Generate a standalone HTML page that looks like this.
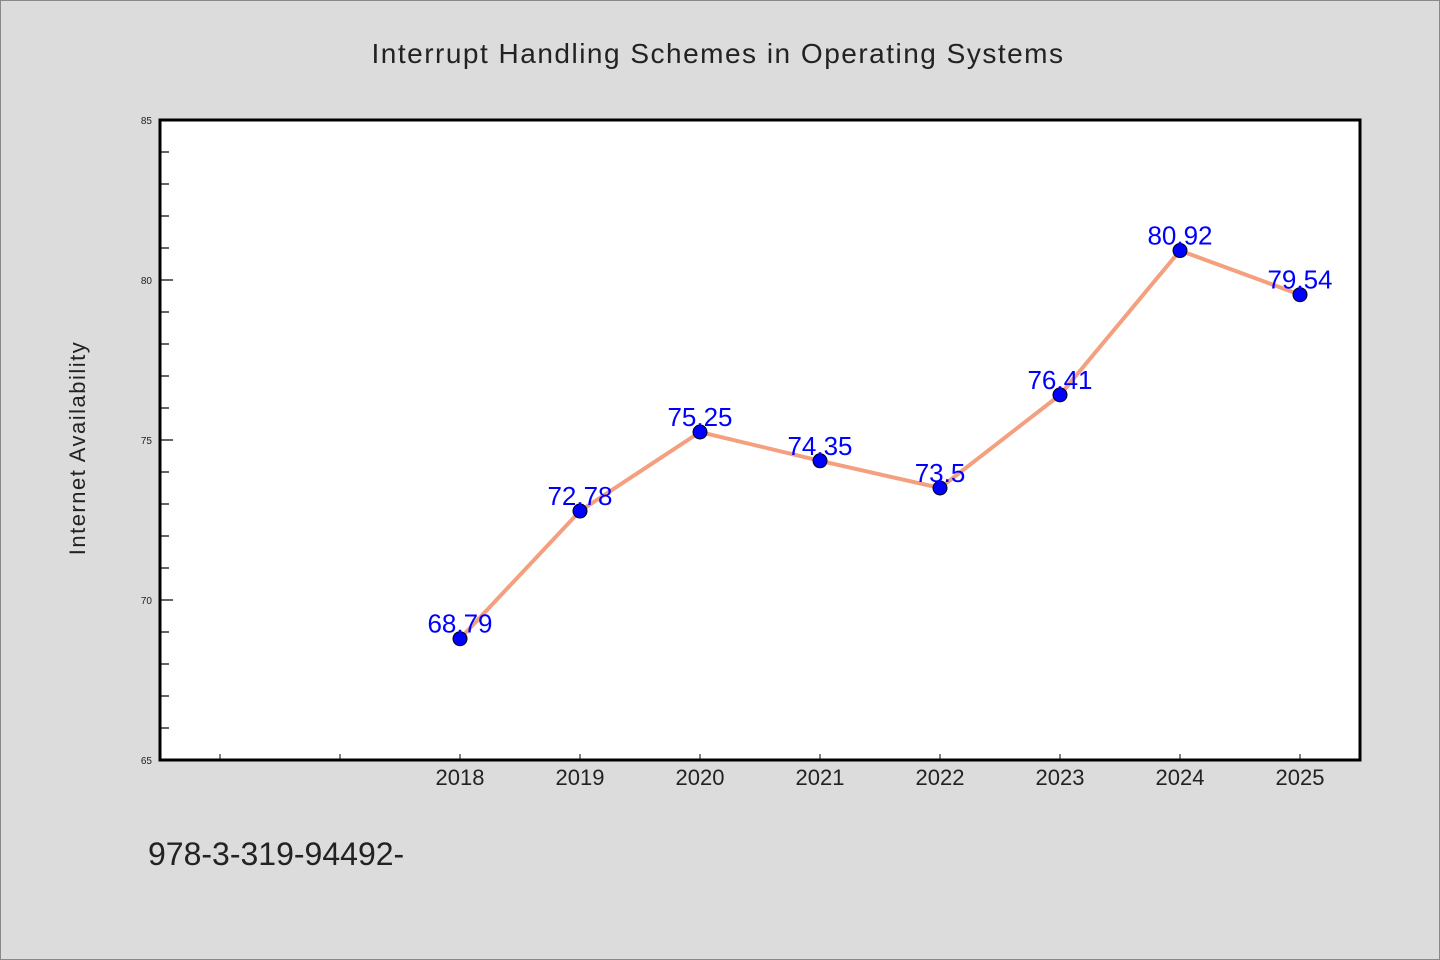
<!DOCTYPE html>
<html><head><meta charset="utf-8"><style>
html,body{margin:0;padding:0;background:#dcdcdc;}
svg{display:block;font-family:"WenQuanYi Zen Hei","Liberation Sans",sans-serif;}
</style></head><body>
<svg id="chart" width="1440" height="960">
<rect x="0.5" y="0.5" width="1439" height="959" fill="#dcdcdc" stroke="#888"/>
<text x="718" y="63" font-size="28" text-anchor="middle" fill="#222" letter-spacing="1.5">Interrupt Handling Schemes in Operating Systems</text>
<rect x="160" y="120" width="1200" height="640" fill="#fff"/>
<g id="axes"></g>
<g id="marks"></g>
<rect x="160" y="120" width="1200" height="640" fill="none" stroke="#000" stroke-width="3"/>
<text transform="translate(85,448) rotate(-90)" font-size="22" text-anchor="middle" fill="#222" letter-spacing="1.5">Internet Availability</text>
<text x="148" y="865" font-size="32" fill="#222">978-3-319-94492-</text>
</svg>
<script>
const categories = ["2018","2019","2020","2021","2022","2023","2024","2025"];
const values = [68.79, 72.78, 75.25, 74.35, 73.5, 76.41, 80.92, 79.54];
const valueLabels = ["68.79","72.78","75.25","74.35","73.5","76.41","80.92","79.54"];
const yTicks = [65, 70, 75, 80, 85];
const xOffset = 2;
const NS = "http://www.w3.org/2000/svg";
const X0 = 160, X1 = 1360, Y0 = 760, Y1 = 120;
const yMin = 65, yMax = 85, nSlots = categories.length + xOffset;
function xs(i){ return X0 + (i + xOffset + 0.5) * (X1 - X0) / nSlots; }
function ys(v){ return Y0 - (v - yMin) / (yMax - yMin) * (Y0 - Y1); }
function mk(tag, attrs, parent){ const e = document.createElementNS(NS, tag); for (const k in attrs) e.setAttribute(k, attrs[k]); parent.appendChild(e); return e; }
const axes = document.getElementById("axes"), marks = document.getElementById("marks");
for (let v = yMin; v <= yMax; v++) {
  const major = yTicks.includes(v);
  const t = mk("line", {x1: X0, x2: X0 + (major ? 13 : 9), y1: ys(v), y2: ys(v), stroke: "#000", "stroke-width": 1.2}, axes);
  
  
}
yTicks.forEach(v => {
  const t = mk("text", {x: X0 - 8, y: ys(v) + 4, "font-size": 10, "text-anchor": "end", fill: "#222"}, axes);
  t.textContent = v;
  
  
});
for (let s = 0; s < nSlots; s++) {
  const x = X0 + (s + 0.5) * (X1 - X0) / nSlots;
  const t = mk("line", {x1: x, x2: x, y1: Y0, y2: Y0 - 6, stroke: "#000", "stroke-width": 1}, axes);
  
  
}
categories.forEach((c, i) => {
  const t = mk("text", {x: xs(i), y: 785, "font-size": 22, "text-anchor": "middle", fill: "#222"}, axes);
  t.textContent = c;
  
  
});
const line = mk("polyline", {points: values.map((v, i) => xs(i) + "," + ys(v)).join(" "), fill: "none", stroke: "#f4a07f", "stroke-width": 4}, marks);


values.forEach((v, i) => {
  const c = mk("circle", {cx: xs(i), cy: ys(v), r: 7, fill: "#0000ff", stroke: "#000", "stroke-width": 1}, marks);
  
  
});
values.forEach((v, i) => {
  const t = mk("text", {x: xs(i), y: ys(v) - 6, "font-size": 26, "text-anchor": "middle", fill: "#0000ff"}, marks);
  t.textContent = valueLabels[i];
  
  
});
</script>
</body></html>
